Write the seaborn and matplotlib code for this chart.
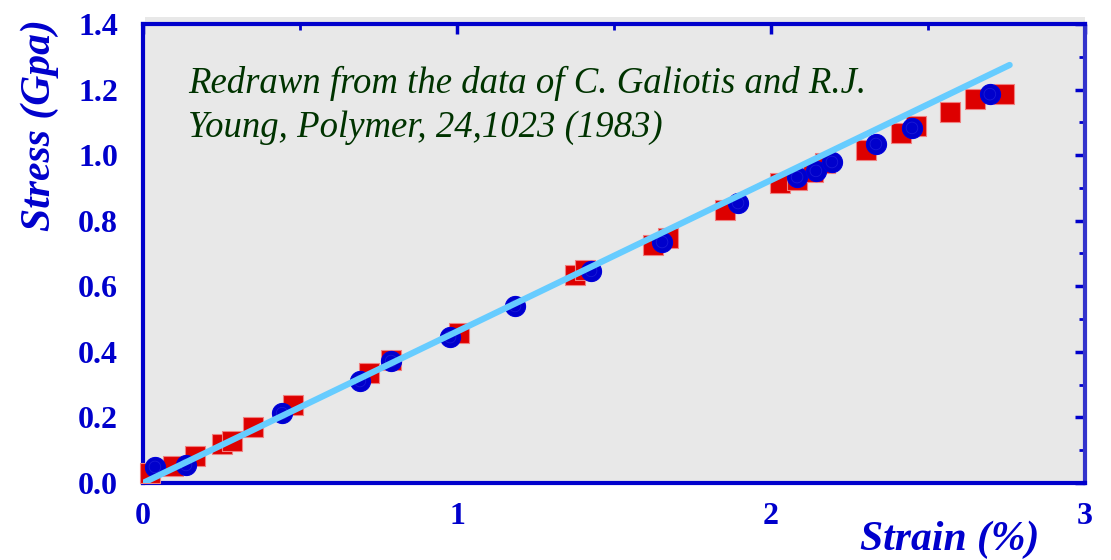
import numpy as np
import pandas as pd
import matplotlib
matplotlib.use("Agg")
import matplotlib.pyplot as plt
from matplotlib.ticker import MultipleLocator
from matplotlib.patches import Rectangle
import seaborn as sns

# Data
red_strain = [0.022, 0.096, 0.166, 0.252, 0.283, 0.350, 0.478, 0.720, 0.790, 1.006,
              1.376, 1.408, 1.624, 1.672, 1.854, 2.029, 2.083, 2.134, 2.172, 2.303,
              2.414, 2.462, 2.570, 2.650, 2.742]
red_stress = [0.030, 0.052, 0.082, 0.119, 0.128, 0.171, 0.238, 0.335, 0.375, 0.457,
              0.634, 0.650, 0.726, 0.747, 0.833, 0.915, 0.924, 0.948, 0.976, 1.016,
              1.067, 1.089, 1.131, 1.171, 1.186]
blue_strain = [0.038, 0.137, 0.443, 0.691, 0.790, 0.978, 1.185, 1.427, 1.653, 1.895,
               2.083, 2.143, 2.194, 2.334, 2.449, 2.697]
blue_stress = [0.049, 0.055, 0.213, 0.311, 0.372, 0.445, 0.540, 0.647, 0.735, 0.854,
               0.933, 0.952, 0.979, 1.034, 1.083, 1.186]
fit_strain = [0.0, 2.76]
fit_stress = [0.0, 1.275]

x_ticks = [0, 1, 2, 3]
y_ticks = [0.0, 0.2, 0.4, 0.6, 0.8, 1.0, 1.2, 1.4]
note_lines = ['Redrawn from the data of C. Galiotis and R.J.',
              'Young, Polymer, 24,1023 (1983)']

sns.set_theme(style="white")
plt.rcParams['font.family'] = ['Liberation Serif', 'DejaVu Serif']

W, H = 1111, 560
fig = plt.figure(figsize=(W / 100, H / 100), dpi=100)
left, right, top, bottom = 143, 1085, 24, 483
ax = fig.add_axes([left / W, 1 - bottom / H, (right - left) / W, (bottom - top) / H])
ax.set_facecolor('none')
fig.patches.append(Rectangle((145 / W, 1 - bottom / H), (right - 145) / W, (bottom - 17) / H,
                             transform=fig.transFigure, facecolor='#e8e8e8',
                             edgecolor='none', zorder=-10))

blue = '#0000cc'
red_df = pd.DataFrame({'strain': red_strain, 'stress': red_stress})
blue_df = pd.DataFrame({'strain': blue_strain, 'stress': blue_stress})
fit_df = pd.DataFrame({'strain': fit_strain, 'stress': fit_stress})

sns.scatterplot(data=red_df, x='strain', y='stress', marker='s', s=220,
                color='#dd0000', edgecolor='#f08080', linewidth=0.8, ax=ax, zorder=3,
                clip_on=False)
sns.scatterplot(data=blue_df, x='strain', y='stress', marker='o', s=210,
                color='#0000cc', edgecolor='#0000dd', linewidth=0.8, ax=ax, zorder=4,
                clip_on=False)
sns.scatterplot(data=blue_df, x='strain', y='stress', marker='o', s=70,
                facecolor='none', edgecolor='#1a1ad6', linewidth=0.6, ax=ax, zorder=5,
                clip_on=False)
sns.lineplot(data=fit_df, x='strain', y='stress', color='#66ccff', linewidth=4.5,
             ax=ax, zorder=6)

ax.set_xlim(0, 3)
ax.set_ylim(0, 1.4)
ax.set_xticks(x_ticks)
ax.set_yticks(y_ticks)
ax.set_xticklabels([str(t) for t in x_ticks])
ax.set_yticklabels([f'{t:.1f}' for t in y_ticks])
ax.xaxis.set_minor_locator(MultipleLocator(0.5))
ax.yaxis.set_minor_locator(MultipleLocator(0.1))
ax.tick_params(which='both', direction='in', color=blue, top=True, right=True,
               labelcolor=blue)
ax.tick_params(which='major', length=7, width=2.5)
ax.tick_params(which='minor', length=4, width=2)
ax.tick_params(axis='x', which='major', pad=14, labelsize=23)
ax.tick_params(axis='y', which='major', pad=18, labelsize=23)
for lbl in ax.get_xticklabels() + ax.get_yticklabels():
    lbl.set_fontweight('bold')

for side in ['left', 'bottom', 'top']:
    ax.spines[side].set_color(blue)
    ax.spines[side].set_linewidth(3)
ax.spines['right'].set_color('#3333cc')
ax.spines['right'].set_linewidth(3)

ax.set_xlabel('')
ax.set_ylabel('')
fig.text(950 / W, 1 - 540 / H, 'Strain (%)', color=blue, fontsize=30,
         fontweight='bold', style='italic', ha='center', va='center')
fig.text(40 / W, 1 - 125 / H, 'Stress (Gpa)', color=blue, fontsize=30,
         fontweight='bold', style='italic', ha='center', va='center', rotation=90)

for line, base in zip(note_lines, [93, 137]):
    fig.text(188 / W, 1 - base / H, line, color='#003300', fontsize=26.5,
             style='italic', ha='left', va='baseline')

fig.savefig('out.png', dpi=100)
